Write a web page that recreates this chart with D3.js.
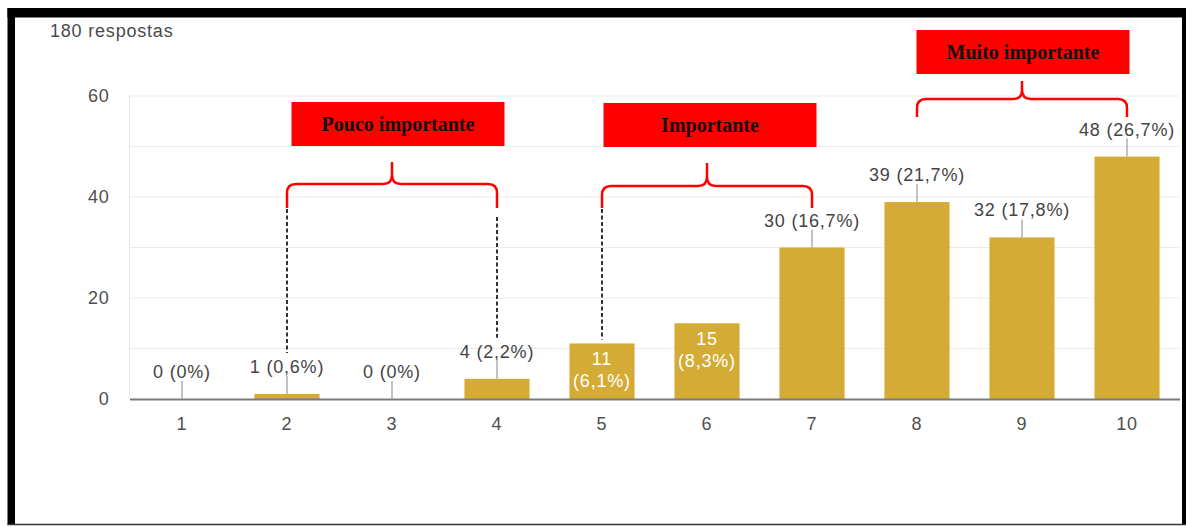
<!DOCTYPE html>
<html>
<head>
<meta charset="utf-8">
<script src="https://cdn.jsdelivr.net/npm/d3@7"></script>
<style>
  html, body { margin: 0; padding: 0; background: #fff; }
  svg { display: block; }
  .lbl { font-family: "Liberation Sans", Arial, sans-serif; font-size: 18px; letter-spacing: 0.8px; }
  .tag { font-family: "Liberation Serif", "Times New Roman", serif; font-size: 20px; font-weight: bold; }
</style>
</head>
<body>
<svg id="chart" width="1186" height="527"></svg>
<script>
// Respostas por nota (escala de 1 a 10)
const categories = ["1", "2", "3", "4", "5", "6", "7", "8", "9", "10"];
const counts = [0, 1, 0, 4, 11, 15, 30, 39, 32, 48];
const totalResponses = 180;
const yTicks = [0, 20, 40, 60];
const gridValues = [10, 20, 30, 40, 50, 60];
// Bars whose value label sits inside the bar, on two lines
const insideLabels = ["5", "6"];

// Grouping annotations
const groupNames = ["Pouco importante", "Importante", "Muito importante"];
const groupFrom = ["2", "5", "8"];
const groupTo = ["4", "7", "10"];
// Categories joined to their group's brace by a dashed connector
const connectorCats = ["2", "4", "5"];

const W = 1186, H = 527;
const svg = d3.select("#chart");

const x = d3.scaleBand()
  .domain(categories)
  .range([129.5, 1179.5])
  .paddingInner(0.38)
  .paddingOuter(0.19);
const y = d3.scaleLinear().domain([0, 60]).range([399, 96]);
const cx = c => x(c) + x.bandwidth() / 2;

const fmtPct = v => {
  const p = v / totalResponses * 100;
  return (v === 0 ? "0" : p.toFixed(1).replace(".", ",")) + "%";
};

// background
svg.append("rect").attr("width", W).attr("height", H).attr("fill", "#fff");

// header
svg.append("text").attr("class", "lbl")
  .attr("x", 50).attr("y", 37)
  .attr("fill", "#4a4a4a")
  .text(totalResponses + " respostas");

// gridlines
svg.append("g").selectAll("line").data(gridValues).join("line")
  .attr("x1", 129.5).attr("x2", 1179.5)
  .attr("y1", d => y(d)).attr("y2", d => y(d))
  .attr("stroke", "#ebebeb").attr("stroke-width", 1.2);
svg.append("line")
  .attr("x1", 129.5).attr("x2", 129.5)
  .attr("y1", y(60)).attr("y2", y(0))
  .attr("stroke", "#e6e6e6").attr("stroke-width", 1);

// y axis labels
const yAxis = svg.append("g")
  .attr("transform", "translate(129.5,0)")
  .call(d3.axisLeft(y).tickValues(yTicks).tickSize(0).tickPadding(20));
yAxis.select(".domain").remove();
yAxis.selectAll("text").attr("class", "lbl").attr("fill", "#4f4f4f");

// bars
svg.append("g").selectAll("rect").data(categories).join("rect")
  .attr("x", d => x(d))
  .attr("width", x.bandwidth())
  .attr("y", (d, i) => y(counts[i]))
  .attr("height", (d, i) => y(0) - y(counts[i]))
  .attr("fill", "#d4ac35");

// x axis
const xAxis = svg.append("g")
  .attr("transform", `translate(0,${y(0)})`)
  .call(d3.axisBottom(x).tickSize(0).tickSizeOuter(0).tickPadding(18));
xAxis.select(".domain").attr("stroke", "#7a7a7a").attr("stroke-width", 2);
xAxis.selectAll("text").attr("class", "lbl").attr("fill", "#4f4f4f");

// value labels
const labels = svg.append("g");
categories.forEach((c, i) => {
  const v = counts[i];
  const top = y(v);
  if (insideLabels.includes(c)) {
    const t = labels.append("text").attr("class", "lbl")
      .attr("text-anchor", "middle").attr("fill", "#fff");
    t.append("tspan").attr("x", cx(c)).attr("y", top + 22).text(v);
    t.append("tspan").attr("x", cx(c)).attr("y", top + 44).text(`(${fmtPct(v)})`);
  } else {
    labels.append("line")
      .attr("x1", cx(c)).attr("x2", cx(c))
      .attr("y1", top).attr("y2", top - 18)
      .attr("stroke", "#9a9a9a").attr("stroke-width", 1.2);
    labels.append("text").attr("class", "lbl")
      .attr("x", cx(c)).attr("y", top - 21)
      .attr("text-anchor", "middle").attr("fill", "#444")
      .text(`${v} (${fmtPct(v)})`);
  }
});

// group braces and tags
const braceLayout = [
  { barY: 184, endY: 208, tipY: 162, boxTop: 102, boxH: 44, dx: 6 },
  { barY: 186, endY: 208, tipY: 163, boxTop: 103, boxH: 44, dx: 3 },
  { barY: 99,  endY: 117, tipY: 81,  boxTop: 30,  boxH: 44, dx: 1 }
];
const boxW = 213, r = 9;
const ann = svg.append("g");
groupNames.forEach((name, g) => {
  const L = braceLayout[g];
  const x1 = cx(groupFrom[g]), x2 = cx(groupTo[g]);
  const xm = (x1 + x2) / 2;
  const p = d3.path();
  p.moveTo(x1, L.endY);
  p.lineTo(x1, L.barY + r);
  p.quadraticCurveTo(x1, L.barY, x1 + r, L.barY);
  p.lineTo(xm - r, L.barY);
  p.quadraticCurveTo(xm, L.barY, xm, L.barY - r);
  p.lineTo(xm, L.tipY);
  p.moveTo(xm, L.barY - r);
  p.quadraticCurveTo(xm, L.barY, xm + r, L.barY);
  p.lineTo(x2 - r, L.barY);
  p.quadraticCurveTo(x2, L.barY, x2, L.barY + r);
  p.lineTo(x2, L.endY);
  ann.append("path").attr("d", p.toString())
    .attr("fill", "none").attr("stroke", "#ff0000").attr("stroke-width", 2.5);

  const bx = xm + L.dx - boxW / 2;
  ann.append("rect")
    .attr("x", bx).attr("y", L.boxTop)
    .attr("width", boxW).attr("height", L.boxH)
    .attr("fill", "#ff0000");
  ann.append("text").attr("class", "tag")
    .attr("x", bx + boxW / 2).attr("y", L.boxTop + L.boxH / 2)
    .attr("dy", "0.35em")
    .attr("text-anchor", "middle").attr("fill", "#111")
    .text(name);
});

// dashed connectors from brace ends to the bar labels
connectorCats.forEach(c => {
  const i = categories.indexOf(c);
  const g = groupFrom.includes(c) ? groupFrom.indexOf(c) : groupTo.indexOf(c);
  const startY = braceLayout[g].endY + (groupTo.includes(c) ? 9 : 1);
  const endY = insideLabels.includes(c) ? y(counts[i]) - 4 : y(counts[i]) - 41;
  ann.append("line")
    .attr("x1", cx(c)).attr("x2", cx(c))
    .attr("y1", startY).attr("y2", endY)
    .attr("stroke", "#111").attr("stroke-width", 1.7)
    .attr("stroke-dasharray", "4,2.5");
});

// frame
const frame = svg.append("g");
frame.append("rect").attr("x", 7.5).attr("y", 8).attr("width", W - 7.5).attr("height", 9.5).attr("fill", "#000");
frame.append("rect").attr("x", 7.5).attr("y", 8).attr("width", 7.5).attr("height", 517).attr("fill", "#000");
frame.append("rect").attr("x", 1182).attr("y", 8).attr("width", 4).attr("height", 517).attr("fill", "#000");
frame.append("line").attr("x1", 7.5).attr("x2", W).attr("y1", 524.5).attr("y2", 524.5)
  .attr("stroke", "#333").attr("stroke-width", 1.5);
</script>
</body>
</html>
